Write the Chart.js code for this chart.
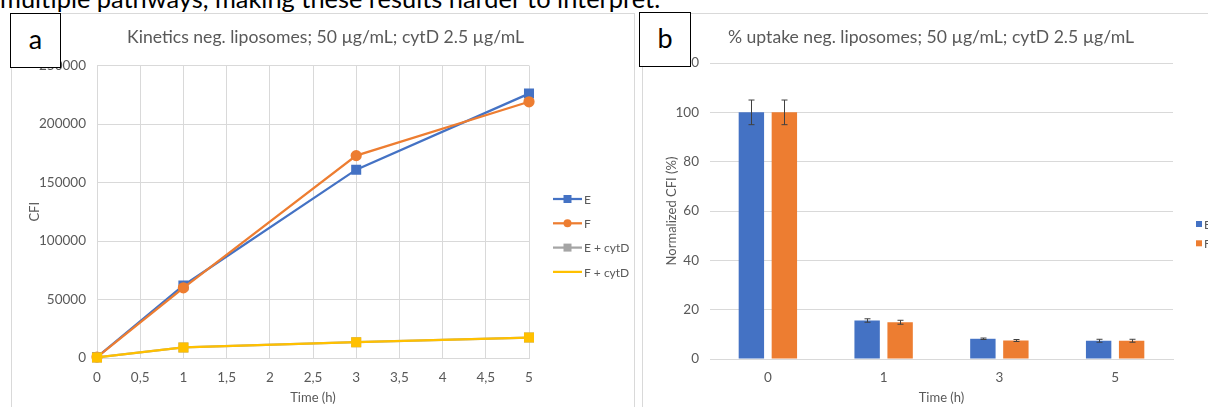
<!DOCTYPE html>
<html>
<head>
<meta charset="utf-8">
<script src="https://cdn.jsdelivr.net/npm/chart.js@4.4.0/dist/chart.umd.min.js"></script>
<style>
  html, body { margin: 0; padding: 0; background: #fff; overflow: hidden; }
  #page { position: relative; width: 1208px; height: 407px; overflow: hidden; font-family: Lato, sans-serif; }
  .intro { position: absolute; left: 0; top: -14px; font-size: 25.4px; line-height: 25px; white-space: nowrap; color: #000; }
  .frame { position: absolute; border: 1px solid #d9d9d9; border-bottom: none; }
  .tag { position: absolute; box-sizing: border-box; border: 1px solid #000; background: #fff;
         font-size: 27px; line-height: 50px; text-align: center; color: #000; }
  canvas { position: absolute; }
</style>
</head>
<body>
<div id="page">
  <div class="intro">multiple pathways, making these results harder to interpret.</div>
  <div class="frame" style="left:11px; top:13px; width:622px; height:400px;"></div>
  <div class="frame" style="left:642px; top:13px; width:600px; height:400px;"></div>
  <canvas id="kinetics" width="629" height="394" style="left:11px; top:13px;"></canvas>
  <canvas id="uptake" width="576" height="394" style="left:643px; top:13px;"></canvas>
  <div class="tag" style="left:10px; top:13px; width:51px; height:55px;">a</div>
  <div class="tag" style="left:639px; top:12px; width:52px; height:55px;">b</div>
</div>
<script>
// panel a: kinetics (CFI vs time)
const timeH = [0, 1, 3, 5];
const cfiE = [800, 62000, 161000, 226000];
const cfiF = [800, 60000, 173000, 219000];
const cfiECytD = [500, 9000, 13500, 17500];
const cfiFCytD = [500, 9000, 13500, 17500];

// panel b: % uptake, normalized to t=0
const uptakeTimes = ['0', '1', '3', '5'];
const uptakeE = [100, 15.6, 8.2, 7.4];
const uptakeF = [100, 14.9, 7.5, 7.4];
const uptakeErrE = [5, 0.7, 0.3, 0.6];
const uptakeErrF = [5, 0.8, 0.4, 0.6];

const BLUE = '#4472C4', ORANGE = '#ED7D31', GREY = '#A5A5A5', GOLD = '#FFC000';
const GRID = '#d9d9d9', TXT = '#595959';

Chart.defaults.font.family = 'Lato, sans-serif';
Chart.defaults.font.size = 13.5;
Chart.defaults.color = TXT;

function pts(vals) {
  return timeH.map((t, i) => ({ x: t, y: vals[i] }));
}

// legend drawn at a fixed spot to the right of the plot, Excel style
const sideLegend = {
  id: 'sideLegend',
  afterDraw(chart, args, opts) {
    const ctx = chart.ctx;
    ctx.save();
    ctx.font = '12px Lato, sans-serif';
    ctx.fillStyle = TXT;
    ctx.textBaseline = 'middle';
    chart.data.datasets.forEach((ds, i) => {
      const y = opts.y + i * opts.step;
      const x = opts.x;
      if (opts.kind === 'line') {
        ctx.strokeStyle = ds.borderColor;
        ctx.lineWidth = ds.borderWidth;
        ctx.beginPath();
        ctx.moveTo(x, y);
        ctx.lineTo(x + 29, y);
        ctx.stroke();
        if (ds.legendPoint !== false) {
          ctx.fillStyle = ds.backgroundColor;
          ctx.beginPath();
          if (ds.pointStyle === 'circle') ctx.arc(x + 14.5, y, 4, 0, Math.PI * 2);
          else ctx.rect(x + 10.5, y - 4, 8, 8);
          ctx.fill();
        }
        ctx.fillStyle = TXT;
        ctx.fillText(ds.label, x + 31, y + 1);
      } else {
        ctx.fillStyle = ds.backgroundColor;
        ctx.fillRect(x, y - 3, 6, 6);
        ctx.fillStyle = TXT;
        ctx.fillText(ds.label, x + 8, y + 1);
      }
    });
    ctx.restore();
  }
};

const errorBars = {
  id: 'errorBars',
  afterDatasetsDraw(chart, args, opts) {
    const ctx = chart.ctx;
    const yScale = chart.scales.y;
    ctx.save();
    ctx.strokeStyle = '#404040';
    ctx.lineWidth = 1;
    chart.data.datasets.forEach((ds, i) => {
      const errs = opts.errors[i];
      chart.getDatasetMeta(i).data.forEach((bar, j) => {
        const top = yScale.getPixelForValue(ds.data[j] + errs[j]);
        const bot = yScale.getPixelForValue(ds.data[j] - errs[j]);
        const x = Math.round(bar.x) + 0.5;
        ctx.beginPath();
        ctx.moveTo(x, top); ctx.lineTo(x, bot);
        ctx.moveTo(x - 3, top); ctx.lineTo(x + 3, top);
        ctx.moveTo(x - 3, bot); ctx.lineTo(x + 3, bot);
        ctx.stroke();
      });
    });
    ctx.restore();
  }
};

new Chart(document.getElementById('kinetics'), {
  type: 'line',
  data: {
    datasets: [
      { label: 'E', data: pts(cfiE), borderColor: BLUE, backgroundColor: BLUE,
        borderWidth: 2.25, pointStyle: 'rect', pointRadius: 5.5, order: 4, clip: false },
      { label: 'F', data: pts(cfiF), borderColor: ORANGE, backgroundColor: ORANGE,
        borderWidth: 2.25, pointStyle: 'circle', pointRadius: 4.5, order: 3, clip: false },
      { label: 'E + cytD', data: pts(cfiECytD), borderColor: GREY, backgroundColor: GREY,
        borderWidth: 2.25, pointStyle: 'rect', pointRadius: 5.5, order: 2, clip: false },
      { label: 'F + cytD', data: pts(cfiFCytD), borderColor: GOLD, backgroundColor: GOLD,
        borderWidth: 2.25, pointStyle: 'rect', pointRadius: 5.5, order: 1, clip: false, legendPoint: false }
    ]
  },
  options: {
    responsive: false,
    animation: false,
    layout: { padding: 0 },
    plugins: {
      legend: { display: false },
      tooltip: { enabled: false },
      title: {
        display: true,
        text: 'Kinetics neg. liposomes; 50 µg/mL; cytD 2.5 µg/mL',
        color: TXT,
        font: { size: 17.6, weight: 'normal' },
        padding: { top: 13.4, bottom: 18 }
      },
      sideLegend: { kind: 'line', x: 542, y: 186, step: 24.3 }
    },
    scales: {
      x: {
        type: 'linear', min: 0, max: 5,
        ticks: { stepSize: 0.5, padding: 12, callback: v => String(v).replace('.', ',') },
        grid: { color: GRID, drawTicks: false },
        border: { color: GRID },
        title: { display: true, text: 'Time (h)', color: TXT, font: { size: 13 }, padding: { top: 0, bottom: 1.2 } },
        afterFit: s => { s.height = 49; }
      },
      y: {
        min: 0, max: 250000,
        ticks: { stepSize: 50000, padding: 11, callback: v => String(v) },
        grid: { color: GRID, drawTicks: false },
        border: { color: GRID },
        title: { display: true, text: 'CFI', color: TXT, font: { size: 13 }, padding: { top: 16.2, bottom: 0 } },
        afterFit: s => { s.width = 86; }
      },
      room: {
        type: 'linear', position: 'right', display: true,
        ticks: { display: false }, grid: { display: false }, border: { display: false },
        afterFit: s => { s.width = 111; }
      }
    }
  },
  plugins: [sideLegend]
});

new Chart(document.getElementById('uptake'), {
  type: 'bar',
  data: {
    labels: uptakeTimes,
    datasets: [
      { label: 'E', data: uptakeE, backgroundColor: BLUE },
      { label: 'F', data: uptakeF, backgroundColor: ORANGE }
    ]
  },
  options: {
    responsive: false,
    animation: false,
    layout: { padding: 0 },
    categoryPercentage: 0.57,
    barPercentage: 0.77,
    plugins: {
      legend: { display: false },
      tooltip: { enabled: false },
      title: {
        display: true,
        text: '% uptake neg. liposomes; 50 µg/mL; cytD 2.5 µg/mL',
        color: TXT,
        font: { size: 17.6, weight: 'normal' },
        padding: { top: 13.4, bottom: 15.5 }
      },
      sideLegend: { kind: 'box', x: 553, y: 211, step: 19.3 },
      errorBars: { errors: [uptakeErrE, uptakeErrF] }
    },
    scales: {
      x: {
        ticks: { padding: 11 },
        grid: { display: false, drawTicks: false },
        border: { color: GRID },
        title: { display: true, text: 'Time (h)', color: TXT, font: { size: 13 }, padding: { top: 0, bottom: 1.2 } },
        afterFit: s => { s.height = 48; }
      },
      y: {
        min: 0, max: 120,
        ticks: { stepSize: 20, padding: 11 },
        grid: { color: GRID, drawTicks: false },
        border: { display: false },
        title: { display: true, text: 'Normalized CFI (%)', color: TXT, font: { size: 13 }, padding: { top: 20.7, bottom: 0 } },
        afterFit: s => { s.width = 67; }
      },
      room: {
        type: 'linear', position: 'right', display: true,
        ticks: { display: false }, grid: { display: false }, border: { display: false },
        afterFit: s => { s.width = 46; }
      }
    }
  },
  plugins: [sideLegend, errorBars]
});
</script>
</body>
</html>
